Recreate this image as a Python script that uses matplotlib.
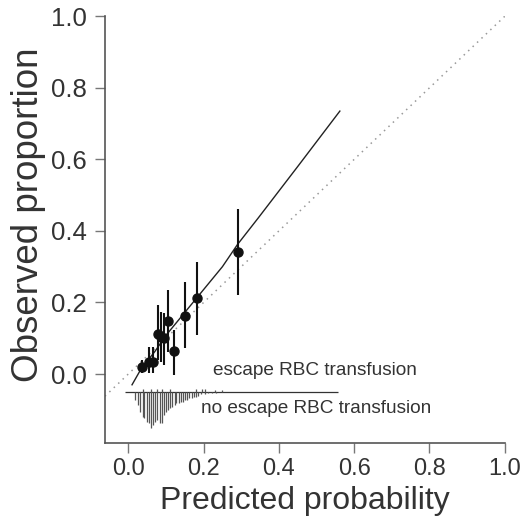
import numpy as np
import matplotlib.pyplot as plt

plt.rcParams['font.family'] = ['Liberation Sans', 'DejaVu Sans']

# grouped observations: mean predicted, observed proportion, CI
pred = [0.036, 0.056, 0.067, 0.079, 0.088, 0.095, 0.105, 0.122, 0.151, 0.182, 0.291]
obs = [0.019, 0.034, 0.034, 0.112, 0.103, 0.100, 0.148, 0.065, 0.162, 0.213, 0.342]
ci_low = [0.003, 0.002, 0.004, 0.039, 0.034, 0.025, 0.062, -0.003, 0.072, 0.109, 0.220]
ci_high = [0.039, 0.076, 0.076, 0.193, 0.174, 0.170, 0.235, 0.123, 0.258, 0.314, 0.460]

# smoothed calibration curve
curve_x = [0.010, 0.036, 0.070, 0.100, 0.150, 0.200, 0.250, 0.290, 0.345, 0.450, 0.562]
curve_y = [-0.030, 0.018, 0.062, 0.108, 0.172, 0.236, 0.300, 0.362, 0.436, 0.580, 0.735]

# spike histogram of predictions
neg_x = [0.019, 0.025, 0.032, 0.038, 0.043, 0.049, 0.054, 0.060, 0.066, 0.071,
         0.077, 0.083, 0.089, 0.094, 0.100, 0.106, 0.111, 0.117, 0.123, 0.128,
         0.134, 0.140, 0.145, 0.151, 0.157, 0.162, 0.168, 0.174, 0.179, 0.185,
         0.194, 0.203, 0.212, 0.222, 0.232]
neg_h = [0.023, 0.037, 0.056, 0.070, 0.075, 0.084, 0.088, 0.102, 0.093, 0.084,
         0.079, 0.088, 0.088, 0.065, 0.056, 0.051, 0.047, 0.042, 0.037, 0.033,
         0.033, 0.028, 0.028, 0.023, 0.023, 0.019, 0.017, 0.014, 0.014, 0.011,
         0.007, 0.006, 0.004, 0.004, 0.003]
pos_x = [0.040, 0.060, 0.075, 0.090, 0.110, 0.180, 0.195, 0.205, 0.230, 0.250]
pos_h = [0.006, 0.008, 0.006, 0.008, 0.006, 0.006, 0.008, 0.007, 0.005, 0.005]
hist_lo, hist_hi, hist_base = -0.008, 0.557, -0.049

fig = plt.figure(figsize=(5.22, 5.25), dpi=100)
ax = fig.add_axes([0.201, 0.156, 0.766, 0.813])

ax.plot([-0.062, 1.0], [-0.062, 1.0], color='#999999', linestyle=(0, (1, 3)), lw=1.1)
ax.plot(curve_x, curve_y, color='#222222', lw=1.0)

err = [np.array(obs) - np.array(ci_low), np.array(ci_high) - np.array(obs)]
ax.errorbar(pred, obs, yerr=err, fmt='o', color='#111111', ms=6.5,
            elinewidth=1.5, capsize=0)

ax.hlines(hist_base, hist_lo, hist_hi, color='#333333', lw=0.9)
ax.vlines(neg_x, hist_base - np.array(neg_h), hist_base, color='#555555', lw=0.9)
ax.vlines(pos_x, hist_base, hist_base + np.array(pos_h), color='#555555', lw=0.9)

ax.text(0.496, 0.011, 'escape RBC transfusion', ha='center', va='center',
        fontsize=13.7, color='#333333')
ax.text(0.50, -0.095, 'no escape RBC transfusion', ha='center', va='center',
        fontsize=13.7, color='#333333')

ax.set_xlim(-0.062, 1.0)
ax.set_ylim(-0.193, 1.0)
ticks = [0.0, 0.2, 0.4, 0.6, 0.8, 1.0]
ax.set_xticks(ticks)
ax.set_yticks(ticks)
ax.set_xticklabels([f'{t:.1f}' for t in ticks])
ax.set_yticklabels([f'{t:.1f}' for t in ticks])
for s in ['top', 'right']:
    ax.spines[s].set_visible(False)
for s in ['left', 'bottom']:
    ax.spines[s].set_color('#555555')
    ax.spines[s].set_linewidth(1.2)
ax.tick_params(direction='out', length=7, width=1, color='#777777',
               labelcolor='#333333')
ax.tick_params(axis='y', labelsize=18.5, pad=6)
ax.tick_params(axis='x', labelsize=17, pad=4)

ax.set_xlabel('Predicted probability', fontsize=23, color='#333333', labelpad=4)
ax.set_ylabel('Observed proportion', fontsize=26.5, color='#333333')
ax.yaxis.set_label_coords(-0.147, 0.534)

fig.savefig('out.png', dpi=100)
